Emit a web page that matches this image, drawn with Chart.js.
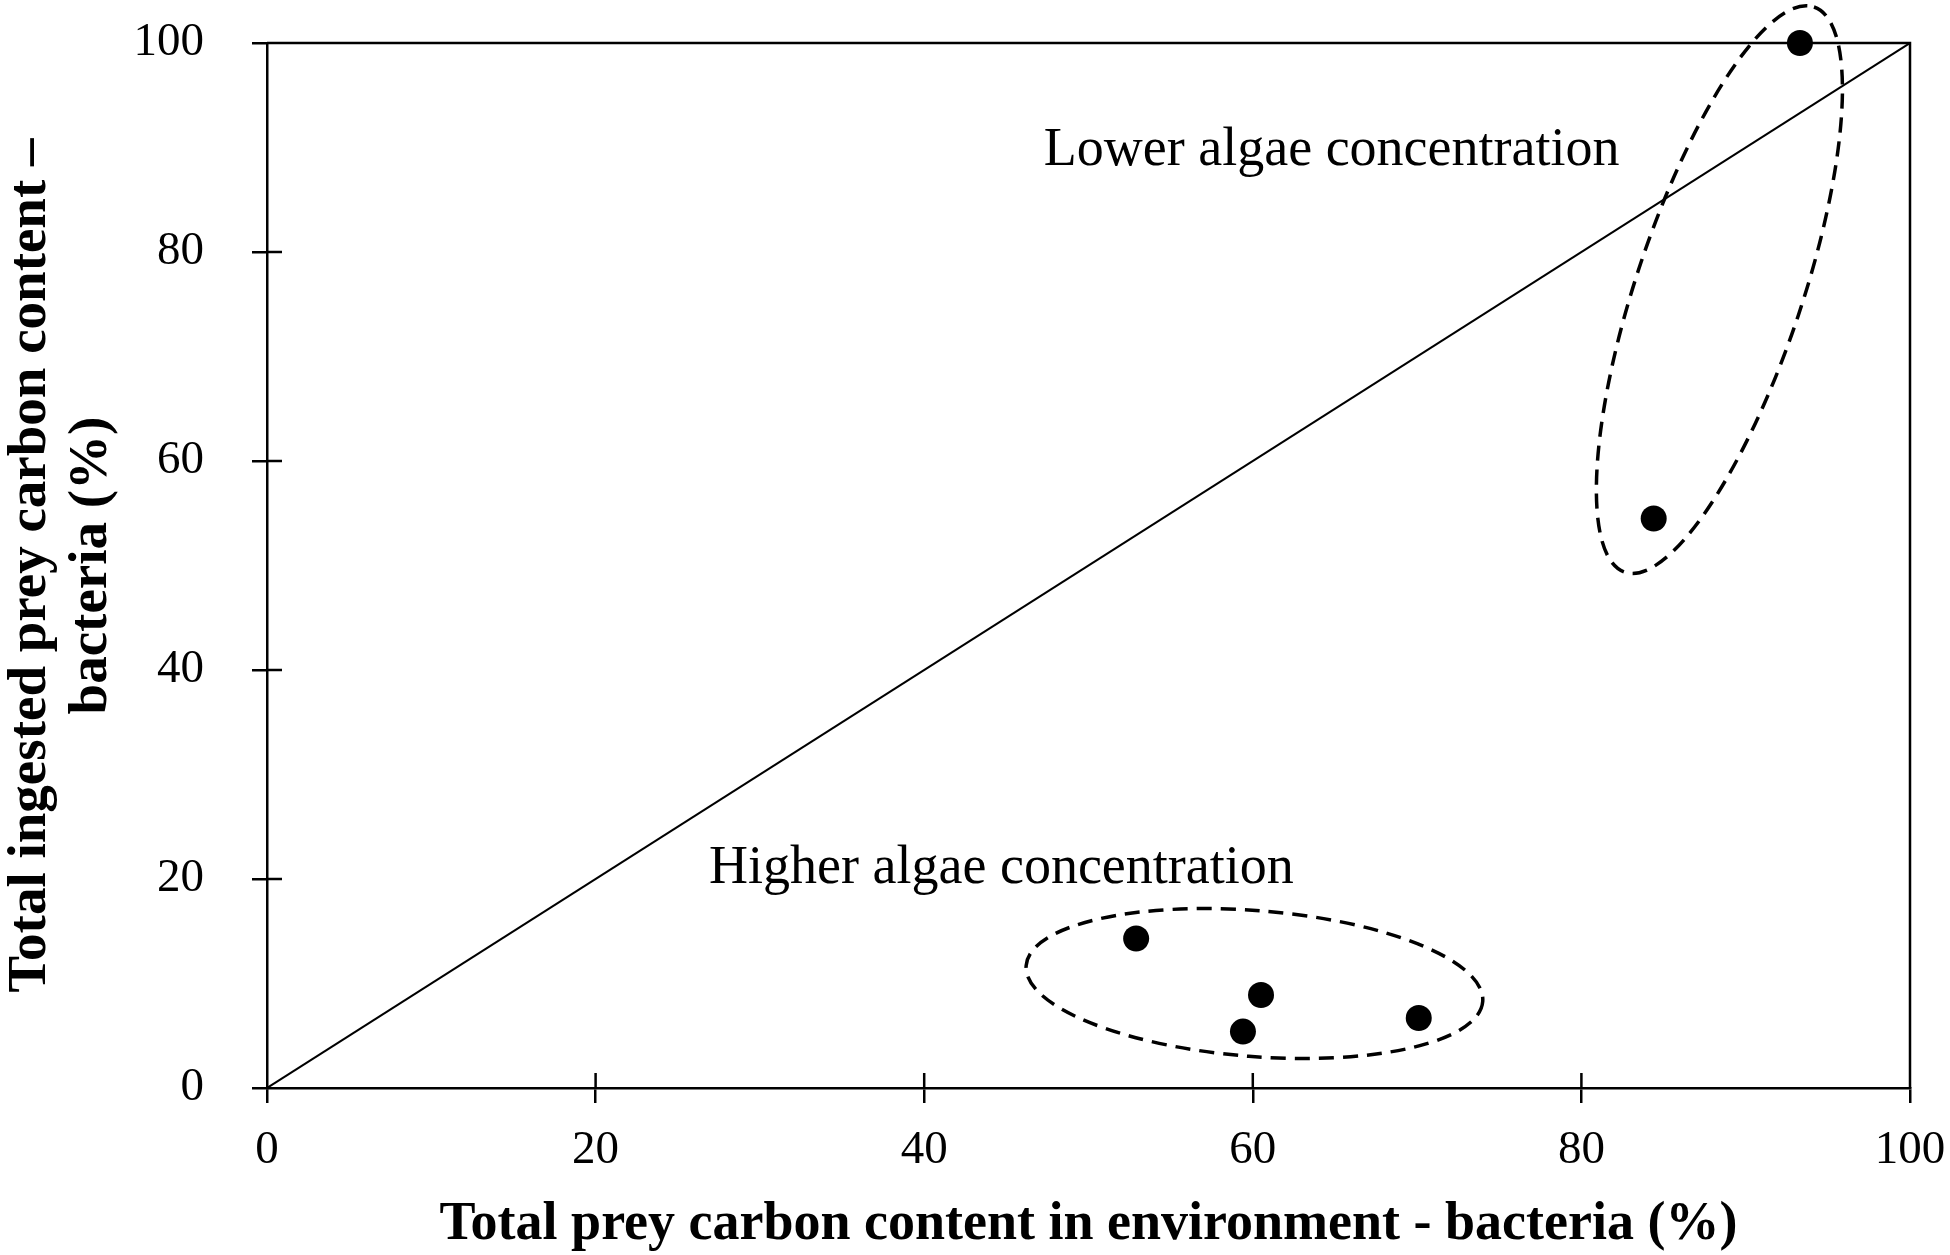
<!DOCTYPE html>
<html>
<head>
<meta charset="utf-8">
<title>Prey carbon content</title>
<script src="https://cdn.jsdelivr.net/npm/chart.js@4.4.1/dist/chart.umd.min.js"></script>
<style>
  html, body { margin: 0; padding: 0; background: #fff; }
  #wrap { width: 1950px; height: 1255px; }
</style>
</head>
<body>
<div id="wrap"><canvas id="chart"></canvas></div>
<script>
/* values */
const envBacteria = [93.3, 84.4, 52.9, 60.5, 59.4, 70.1];       // x, %
const ingestedBacteria = [100, 54.5, 14.3, 8.9, 5.4, 6.7];     // y, %
const oneToOneX = [0, 100];
const oneToOneY = [0, 100];
const tickValues = [0, 20, 40, 60, 80, 100];

const xTitle = 'Total prey carbon content in environment - bacteria (%)';
const yTitle = ['Total ingested prey carbon content \u2013', 'bacteria (%)'];

const SERIF = "'Liberation Serif', 'Times New Roman', serif";

/* annotation groups: centre in data units, ellipse size in pixels */
const groupLabels = [
  { text: 'Lower algae concentration', x: 64.8, y: 88.3 },
  { text: 'Higher algae concentration', x: 44.7, y: 19.6 }
];
const groupEllipses = [
  { cx: 88.4, cy: 76.4, rx: 298, ry: 83, rot: -71.5 },
  { cx: 60.1, cy: 10.0, rx: 229, ry: 73, rot: 4.5 }
];

const points = envBacteria.map((x, i) => ({ x: x, y: ingestedBacteria[i] }));
const refLine = oneToOneX.map((x, i) => ({ x: x, y: oneToOneY[i] }));

// frame, inward tick marks, dashed ellipses and group labels
const figurePlugin = {
  id: 'figure',
  afterDraw(chart) {
    const ctx = chart.ctx;
    const a = chart.chartArea;
    const xs = chart.scales.x, ys = chart.scales.y;
    ctx.save();
    ctx.strokeStyle = '#000';
    ctx.lineWidth = 2.5;
    ctx.beginPath();
    ctx.moveTo(a.left, a.top);
    ctx.lineTo(a.right, a.top);
    ctx.lineTo(a.right, a.bottom);
    ctx.stroke();

    ctx.beginPath();
    tickValues.forEach(v => {
      if (v === 0 || v === 100) return;
      const px = xs.getPixelForValue(v);
      ctx.moveTo(px, a.bottom);
      ctx.lineTo(px, a.bottom - 15);
      const py = ys.getPixelForValue(v);
      ctx.moveTo(a.left, py);
      ctx.lineTo(a.left + 15, py);
    });
    ctx.stroke();

    ctx.lineWidth = 3.5;
    ctx.setLineDash([15, 9]);
    groupEllipses.forEach(e => {
      ctx.beginPath();
      ctx.ellipse(xs.getPixelForValue(e.cx), ys.getPixelForValue(e.cy),
        e.rx, e.ry, e.rot * Math.PI / 180, 0, Math.PI * 2);
      ctx.stroke();
    });
    ctx.setLineDash([]);

    ctx.fillStyle = '#000';
    ctx.font = '54px ' + SERIF;
    ctx.textAlign = 'center';
    ctx.textBaseline = 'alphabetic';
    groupLabels.forEach(l => {
      ctx.fillText(l.text, xs.getPixelForValue(l.x), ys.getPixelForValue(l.y));
    });
    ctx.restore();
  }
};

// keep tick labels from pushing the plot area in
const noOverflow = s => {
  s.paddingTop = 0; s.paddingBottom = 0;
  s.paddingLeft = 0; s.paddingRight = 0;
};

const axisCommon = {
  type: 'linear',
  min: 0,
  max: 100,
  afterBuildTicks: s => { s.ticks = tickValues.map(v => ({ value: v })); },
  border: { display: true, color: '#000', width: 2.5 },
  grid: { drawOnChartArea: false, drawTicks: true, tickLength: 15, color: '#000', lineWidth: 2.5 },
};

new Chart(document.getElementById('chart'), {
  type: 'scatter',
  data: {
    datasets: [
      {
        label: '1:1',
        data: refLine,
        showLine: true,
        borderColor: '#000',
        borderWidth: 2,
        pointRadius: 0,
        order: 2
      },
      {
        label: 'bacteria',
        data: points,
        backgroundColor: '#000',
        borderWidth: 0,
        pointRadius: 13,
        pointHoverRadius: 13,
        clip: false,
        order: 1
      }
    ]
  },
  options: {
    responsive: true,
    maintainAspectRatio: false,
    devicePixelRatio: 1,
    animation: false,
    layout: { padding: { top: 43, right: 40, bottom: 0, left: 0 } },
    plugins: {
      legend: { display: false },
      tooltip: { enabled: false }
    },
    scales: {
      x: Object.assign({}, axisCommon, {
        position: 'bottom',
        afterFit: s => { s.height = 167; noOverflow(s); },
        ticks: { color: '#000', font: { family: SERIF, size: 47 }, padding: 19, maxRotation: 0 },
        title: {
          display: true,
          text: xTitle,
          color: '#000',
          font: { family: SERIF, size: 54, weight: 'bold', lineHeight: 1.1 },
          padding: { top: 0, bottom: 0 }
        }
      }),
      y: Object.assign({}, axisCommon, {
        position: 'left',
        afterFit: s => { s.width = 267; noOverflow(s); },
        ticks: { color: '#000', font: { family: SERIF, size: 47 }, padding: 48 },
        title: {
          display: true,
          text: yTitle,
          color: '#000',
          font: { family: SERIF, size: 55, weight: 'bold', lineHeight: 1.11 },
          padding: { top: 0, bottom: 0 }
        }
      })
    }
  },
  plugins: [figurePlugin]
});
</script>
</body>
</html>
